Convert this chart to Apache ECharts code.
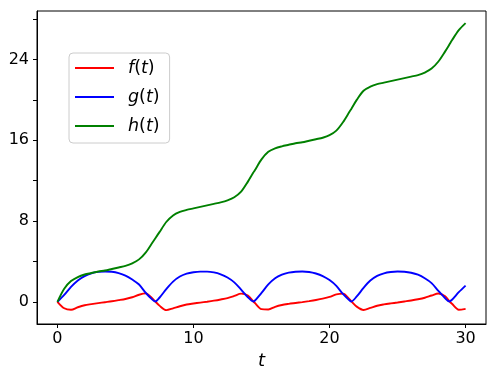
<!DOCTYPE html>
<html>
<head>
<meta charset="utf-8">
<script src="https://cdn.jsdelivr.net/npm/echarts@6/dist/echarts.min.js"></script>
<style>
  body { margin: 0; background: #fff; }
  #chart { width: 498px; height: 379px; }
</style>
</head>
<body>
<div id="chart"></div>
<script>
// sample times (a few extra points where g touches zero)
const tVals = [
  0, 0.5, 1, 1.5, 2, 2.5, 3, 3.5, 4, 4.5, 5, 5.5, 6, 6.5, 7, 7.2,
  7.5, 8, 8.5, 9, 9.5, 10, 10.5, 11, 11.5, 12, 12.5, 13, 13.5, 14, 14.4,
  14.5, 15, 15.5, 16, 16.5, 17, 17.5, 18, 18.5, 19, 19.5, 20, 20.5, 21, 21.5, 21.6,
  22, 22.5, 23, 23.5, 24, 24.5, 25, 25.5, 26, 26.5, 27, 27.5, 28, 28.5, 28.8,
  29, 29.5, 30
]
const fVals = [
  0, -0.64, -0.79, -0.54, -0.34, -0.23, -0.13, -0.04, 0.05, 0.16, 0.28, 0.45, 0.7, 0.83, 0.3, 0.02,
  -0.38, -0.83, -0.65, -0.44, -0.27, -0.17, -0.08, 0.01, 0.11, 0.23, 0.37, 0.58, 0.81, 0.63, 0.03,
  -0.1, -0.73, -0.76, -0.5, -0.32, -0.21, -0.12, -0.03, 0.07, 0.18, 0.31, 0.48, 0.74, 0.81, 0.2, 0.05,
  -0.48, -0.81, -0.61, -0.39, -0.26, -0.16, -0.07, 0.03, 0.13, 0.25, 0.4, 0.62, 0.82, 0.55, 0.07,
  -0.2, -0.79, -0.7
]
const gVals = [
  0, 0.68, 1.48, 2.12, 2.55, 2.82, 2.96, 3.0, 2.97, 2.84, 2.6, 2.2, 1.71, 0.87, 0.19, 0.03,
  0.4, 1.25, 2.0, 2.5, 2.79, 2.93, 2.99, 2.99, 2.91, 2.72, 2.4, 1.92, 1.21, 0.45, 0.03,
  0.1, 0.88, 1.72, 2.33, 2.69, 2.89, 2.98, 3.0, 2.95, 2.8, 2.55, 2.15, 1.58, 0.75, 0.1, 0.03,
  0.53, 1.38, 2.1, 2.56, 2.82, 2.95, 3.0, 2.98, 2.88, 2.68, 2.33, 1.85, 1.08, 0.35, 0.03,
  0.2, 0.95, 1.6
]
const hVals = [
  0, 1.3, 2.05, 2.45, 2.7, 2.85, 3.0, 3.1, 3.25, 3.4, 3.55, 3.8, 4.2, 4.9, 5.9, 6.3,
  6.9, 7.9, 8.55, 8.9, 9.1, 9.25, 9.4, 9.55, 9.7, 9.85, 10.05, 10.35, 10.9, 11.9, 12.8,
  13.0, 14.1, 14.85, 15.2, 15.4, 15.55, 15.7, 15.8, 15.95, 16.1, 16.25, 16.5, 16.95, 17.8, 18.9, 19.1,
  20.0, 20.9, 21.3, 21.55, 21.7, 21.85, 22.0, 22.15, 22.3, 22.45, 22.7, 23.1, 23.8, 24.8, 25.45,
  25.9, 26.9, 27.6
]
const xTicks = [0, 10, 20, 30]
const yTicks = [0, 4, 8, 12, 16, 20, 24, 28]
const yLabels = [0, 8, 16, 24]
const seriesNames = ['f(t)', 'g(t)', 'h(t)']
const seriesColors = ['#ff0000', '#0000ff', '#008000']

function pairs (vals) {
  let out = []
  for (let i = 0; i < tVals.length; i++) {
    out.push([tVals[i], vals[i]])
  }
  return out
}

const font = 'DejaVu Sans'
let chart = echarts.init(document.getElementById('chart'))
let allVals = [fVals, gVals, hVals]
let series = []
for (let i = 0; i < 3; i++) {
  series.push({
    name: seriesNames[i],
    type: 'line',
    data: pairs(allVals[i]),
    symbol: 'none',
    smooth: 0.3,
    lineStyle: { color: seriesColors[i], width: 1.9 },
    itemStyle: { color: seriesColors[i] },
    animation: false
  })
}

let option = {
  backgroundColor: '#fff',
  grid: {
    left: 37,
    right: 12,
    top: 11,
    bottom: 55,
    show: true,
    borderColor: '#000',
    borderWidth: 1
  },
  legend: {
    orient: 'vertical',
    left: 69,
    top: 53,
    padding: [6, 10, 8, 6],
    icon: 'rect',
    itemWidth: 39,
    itemHeight: 2,
    itemGap: 11,
    backgroundColor: 'rgba(255,255,255,0.8)',
    borderColor: '#cccccc',
    borderWidth: 1,
    borderRadius: 4,
    data: seriesNames,
    formatter: function (name) {
      return '{i|' + name[0] + '}{r|(}{i|t}{r|)}'
    },
    textStyle: {
      padding: [0, 0, 0, 9],
      rich: {
        i: { fontFamily: font, fontSize: 17.5, fontStyle: 'italic', color: '#000' },
        r: { fontFamily: font, fontSize: 17.5, color: '#000' }
      }
    }
  },
  xAxis: {
    type: 'value',
    min: -1.5,
    max: 31.5,
    name: 't',
    nameLocation: 'middle',
    nameGap: 27,
    nameTextStyle: { fontFamily: font, fontSize: 18, fontStyle: 'italic', color: '#000' },
    splitLine: { show: false },
    axisLine: { show: true, onZero: false, lineStyle: { color: '#000', width: 1 } },
    axisTick: { show: true, length: 4, customValues: xTicks, lineStyle: { color: '#000', width: 1 } },
    axisLabel: { customValues: xTicks, margin: 7, fontFamily: font, fontSize: 16, color: '#000' }
  },
  yAxis: {
    type: 'value',
    min: -2.2,
    max: 28.8,
    splitLine: { show: false },
    axisLine: { show: true, onZero: false, lineStyle: { color: '#000', width: 1 } },
    axisTick: { show: true, length: 4, customValues: yTicks, lineStyle: { color: '#000', width: 1 } },
    axisLabel: { customValues: yLabels, margin: 8, fontFamily: font, fontSize: 16, color: '#000' }
  },
  series: series
}
chart.setOption(option)
</script>
</body>
</html>
